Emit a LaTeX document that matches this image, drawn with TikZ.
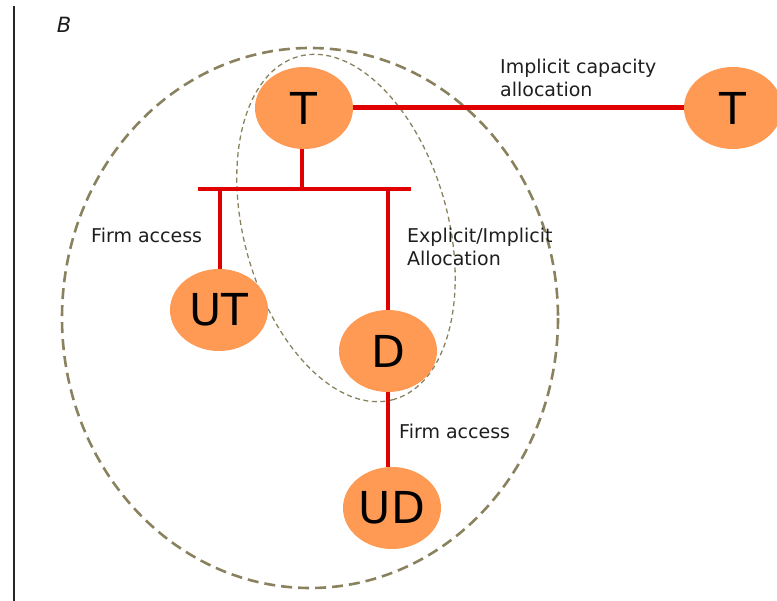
\documentclass[tikz,border=0pt]{standalone}
\usepackage{fontspec}
\setmainfont{DejaVu Sans}
\usetikzlibrary{shapes.geometric}
\definecolor{nodeorange}{RGB}{255,154,85}
\definecolor{linkred}{RGB}{224,0,0}
\definecolor{zoneolive}{RGB}{138,130,94}
\definecolor{textgray}{RGB}{30,30,30}

\begin{document}
\begin{tikzpicture}
  [x=1pt,y=-1pt,
   tso/.style={ellipse,fill=nodeorange,minimum width=98pt,minimum height=82pt,inner sep=0pt,font=\fontsize{44}{44}\selectfont},
   lbl/.style={align=left,anchor=west,inner sep=0pt,text=textgray,font=\fontsize{19}{23}\selectfont},
   link/.style={draw=linkred,line width=3.3pt},
   bigzone/.style={draw=zoneolive,line width=2.6pt,dash pattern=on 11pt off 6pt},
   smallzone/.style={draw=zoneolive,line width=1.3pt,dash pattern=on 5pt off 3.5pt}]
  \useasboundingbox (0,0) rectangle (777,601);

  \draw[line width=2pt,black!85] (14,6) -- (14,601);
  \node[inner sep=0pt,font=\fontsize{21}{21}\selectfont\itshape,text=textgray] (panel) at (64,25) {B};

  \draw[bigzone] (310,318) ellipse [x radius=248, y radius=270];
  \draw[smallzone,rotate around={-74.5:(346,228)}] (346,228) ellipse [x radius=178, y radius=102];

  \node[tso] (t) at (304,108) {T};
  \node[tso] (t2) at (733,108) {T};
  \node[tso] (ut) at (219,310) {UT};
  \node[tso] (d) at (388,351) {D};
  \node[tso] (ud) at (392,508) {UD};

  \coordinate (tee) at (302,189);
  \coordinate (barL) at (198,189);
  \coordinate (barR) at (411,189);
  \coordinate (barUT) at (220,189);
  \coordinate (barD) at (388,189);

  \draw[link,line width=5pt] (t) -- (t2);
  \draw[link] (t.south -| tee) -- (tee);
  \draw[link] (barL) -- (barR);
  \foreach \from/\to in {barUT/ut,barD/d}
    \draw[link] (\from) -- (\from |- \to.north);
  \draw[link] (d.south -| barD) -- (ud.north -| barD);

  \node[lbl] (capacity) at (500,78) {Implicit capacity\\allocation};
  \node[lbl] (firmut) at (91,235) {Firm access};
  \node[lbl] (explicit) at (407,247) {Explicit/Implicit\\Allocation};
  \node[lbl] (firmud) at (399,431) {Firm access};
\end{tikzpicture}
\end{document}
